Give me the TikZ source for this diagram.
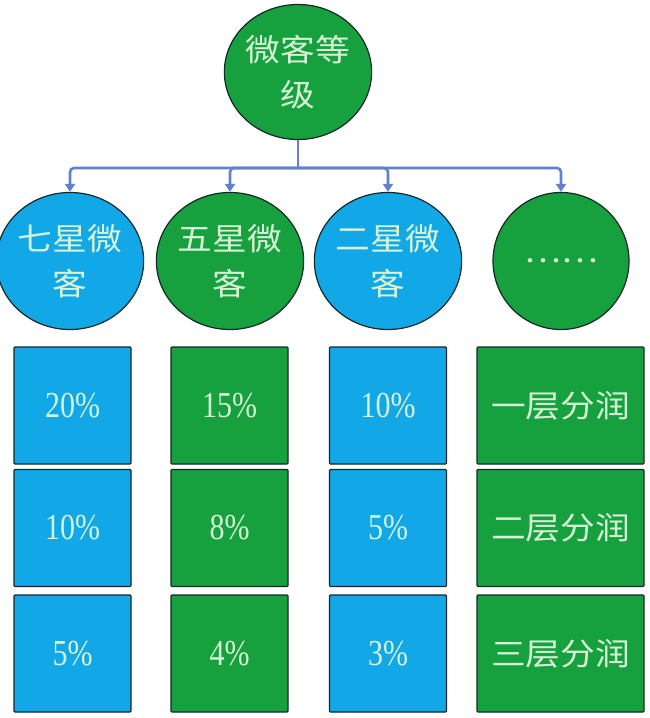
\documentclass[tikz,border=0pt]{standalone}
\usepackage{fontspec}
\usepackage{graphicx}
\setmainfont{Liberation Serif}
\newfontfamily\cjk{Noto Sans CJK SC}
\usetikzlibrary{shapes.geometric,arrows.meta}
\definecolor{cblue}{RGB}{18,168,232}
\definecolor{cgreen}{RGB}{22,160,62}
\definecolor{ctext}{RGB}{214,242,214}
\definecolor{cline}{RGB}{100,128,205}
\definecolor{cedge}{RGB}{20,40,40}
\newcommand{\cjkt}[1]{\scalebox{1.12}[1]{\cjk\fontsize{31}{45}\selectfont #1}}
\newcommand{\pct}[1]{\scalebox{1}[1.22]{\fontsize{30}{36}\selectfont #1}}
\tikzset{
  bub/.style={ellipse, draw=cedge, line width=1.2pt, minimum width=136pt, minimum height=137pt, inner sep=0pt, text=ctext, align=center, font=\fontsize{31}{45}\selectfont},
  bubg/.style={bub, fill=cgreen},
  bubb/.style={bub, fill=cblue},
  cell/.style={rectangle, draw=cedge, line width=1.2pt, minimum width=117pt, minimum height=117pt, inner sep=0pt, text=ctext, rounded corners=1pt},
  cellg/.style={cell, fill=cgreen},
  cellb/.style={cell, fill=cblue},
  conn/.style={draw=cline, line width=2.6pt, rounded corners=4pt},
  arr/.style={conn, -{Triangle[width=10pt,length=8pt]}}
}
\begin{document}
\begin{tikzpicture}[x=1pt,y=-1pt]
\useasboundingbox (0,0) rectangle (650,718);
\fill[white] (0,0) rectangle (650,718);
% top
\node[bubg, minimum width=137pt, minimum height=135pt] (top) at (298,72) {\cjkt{微客等}\\\cjkt{级}};
% second row
\node[bubb] (c1) at (70,261) {\cjkt{七星微}\\\cjkt{客}};
\node[bubg] (c2) at (230,261) {\cjkt{五星微}\\\cjkt{客}};
\node[bubb] (c3) at (388,261) {\cjkt{二星微}\\\cjkt{客}};
\node[bubg] (c4) at (561,261) {\cjkt{……}};
% connectors
\coordinate (hub) at (298,168);
\draw[conn] (top.south) -- (hub);
\draw[arr] (hub) -| (c1.north);
\draw[arr] (hub) -| (c2.north);
\draw[arr] (hub) -| (c3.north);
\draw[arr] (hub) -| (c4.north);
% boxes column 1
\node[cellb] (b11) at (72.5,405.5) {\pct{20\%}};
\node[cellb] (b12) at (72.5,528) {\pct{10\%}};
\node[cellb] (b13) at (72.5,653.5) {\pct{5\%}};
% column 2
\node[cellg] (b21) at (229.5,405.5) {\pct{15\%}};
\node[cellg] (b22) at (229.5,528) {\pct{8\%}};
\node[cellg] (b23) at (229.5,653.5) {\pct{4\%}};
% column 3
\node[cellb] (b31) at (388,405.5) {\pct{10\%}};
\node[cellb] (b32) at (388,528) {\pct{5\%}};
\node[cellb] (b33) at (388,653.5) {\pct{3\%}};
% column 4
\node[cellg, minimum width=167pt] (b41) at (560.5,405.5) {\cjkt{一层分润}};
\node[cellg, minimum width=167pt] (b42) at (560.5,528) {\cjkt{二层分润}};
\node[cellg, minimum width=167pt] (b43) at (560.5,653.5) {\cjkt{三层分润}};
\end{tikzpicture}
\end{document}
